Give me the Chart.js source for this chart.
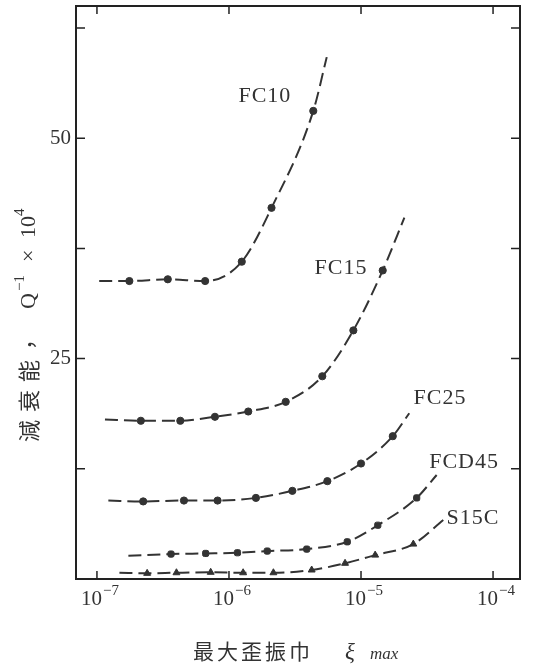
<!DOCTYPE html>
<html>
<head>
<meta charset="utf-8">
<script src="https://cdn.jsdelivr.net/npm/chart.js@4/dist/chart.umd.min.js"></script>
<style>
  html, body { margin: 0; padding: 0; background: #fff; }
  #myChart { display: block; }
</style>
</head>
<body>
<canvas id="myChart" width="533" height="667"></canvas>
<script>
// Значення (перша і остання точки - кінці штрихової кривої)
const fc10X = [1.04e-7, 1.76e-7, 3.44e-7, 6.6e-7, 1.25e-6, 2.1e-6, 4.35e-6, 5.5e-6];
const fc10Y = [33.8, 33.8, 34.0, 33.8, 36.0, 42.1, 53.1, 59.2];

const fc15X = [1.15e-7, 2.15e-7, 4.28e-7, 7.83e-7, 1.4e-6, 2.69e-6, 5.09e-6, 8.75e-6, 1.46e-5, 2.13e-5];
const fc15Y = [18.1, 17.95, 17.95, 18.4, 19.0, 20.1, 23.0, 28.2, 35.0, 41.0];

const fc25X = [1.22e-7, 2.24e-7, 4.56e-7, 8.2e-7, 1.6e-6, 3.02e-6, 5.56e-6, 1.0e-5, 1.74e-5, 2.32e-5];
const fc25Y = [8.9, 8.8, 8.9, 8.9, 9.2, 10.0, 11.1, 13.1, 16.2, 18.8];

const fcd45X = [1.73e-7, 3.64e-7, 6.66e-7, 1.16e-6, 1.95e-6, 3.88e-6, 7.87e-6, 1.34e-5, 2.64e-5, 3.74e-5];
const fcd45Y = [2.64, 2.83, 2.9, 2.98, 3.17, 3.39, 4.22, 6.1, 9.2, 11.8];

const s15cX = [1.48e-7, 2.4e-7, 4.0e-7, 7.27e-7, 1.28e-6, 2.17e-6, 4.23e-6, 7.57e-6, 1.28e-5, 2.49e-5, 4.2e-5];
const s15cY = [0.71, 0.64, 0.71, 0.76, 0.71, 0.71, 1.02, 1.78, 2.71, 3.96, 6.7];

const seriesNames = ["FC10", "FC15", "FC25", "FCD45", "S15C"];
const labelX = [1.87e-6, 7.05e-6, 3.96e-5, 6.03e-5, 7.05e-5];
const labelY = [54.8, 35.3, 20.5, 13.3, 6.9];

const xTicks = [1e-7, 1e-6, 1e-5, 1e-4];
const xTickExp = ["−7", "−6", "−5", "−4"];
const yTicks = [0, 12.5, 25, 37.5, 50, 62.5];
const yTickLabels = ["", "", "25", "", "50", ""];

const ink = "#333";
const serif = "'Liberation Serif', 'DejaVu Serif', serif";
const cjk = "'Noto Sans CJK JP', sans-serif";

function toPoints(xs, ys) {
  return xs.map((x, i) => ({ x: x, y: ys[i] }));
}

// кінці кривої без маркера
function markerRadius(r) {
  return (ctx) => {
    const n = ctx.dataset.data.length;
    return ctx.dataIndex === 0 || ctx.dataIndex === n - 1 ? 0 : r;
  };
}

function makeSeries(name, xs, ys, style, r) {
  return {
    label: name,
    data: toPoints(xs, ys),
    borderColor: ink,
    backgroundColor: ink,
    borderWidth: 2,
    borderDash: [13, 6],
    cubicInterpolationMode: "monotone",
    pointStyle: style,
    pointRadius: markerRadius(r),
    pointBorderWidth: 1,
    pointBorderColor: ink,
    pointBackgroundColor: ink,
  };
}

// рамка, внутрішні риски, підписи кривих і осей
const decorPlugin = {
  id: "decor",
  afterDraw(chart) {
    const c = chart.ctx;
    const a = chart.chartArea;
    const xs = chart.scales.x;
    const ys = chart.scales.y;
    c.save();
    c.strokeStyle = "#222";
    c.lineWidth = 2;
    c.strokeRect(a.left, a.top, a.right - a.left, a.bottom - a.top);

    c.lineWidth = 1.5;
    xTicks.forEach((v) => {
      const px = xs.getPixelForValue(v);
      c.beginPath();
      c.moveTo(px, a.bottom);
      c.lineTo(px, a.bottom - 8);
      c.moveTo(px, a.top);
      c.lineTo(px, a.top + 8);
      c.stroke();
    });
    yTicks.forEach((v) => {
      if (v === 0) return;
      const py = ys.getPixelForValue(v);
      c.beginPath();
      c.moveTo(a.left, py);
      c.lineTo(a.left + 9, py);
      c.moveTo(a.right, py);
      c.lineTo(a.right - 9, py);
      c.stroke();
    });

    c.fillStyle = "#333";
    c.textBaseline = "middle";

    // підписи десятків на осі X з показником степеня
    c.textAlign = "left";
    xTicks.forEach((v, i) => {
      const px = xs.getPixelForValue(v);
      c.font = "21px " + serif;
      c.fillText("10", px - 16, a.bottom + 20);
      c.font = "15px " + serif;
      c.fillText(xTickExp[i], px + 6, a.bottom + 12);
    });

    c.font = "22px " + serif;
    c.textAlign = "center";
    if ("letterSpacing" in c) c.letterSpacing = "1px";
    seriesNames.forEach((name, i) => {
      c.fillText(name, xs.getPixelForValue(labelX[i]), ys.getPixelForValue(labelY[i]));
    });
    if ("letterSpacing" in c) c.letterSpacing = "0px";

    // назва осі X
    c.font = "21px " + cjk;
    c.textAlign = "left";
    const xChars = ["最", "大", "歪", "振", "巾"];
    xChars.forEach((ch, i) => c.fillText(ch, 193 + i * 24, 651));
    c.font = "italic 23px " + serif;
    c.fillText("ξ", 345, 653);
    c.font = "italic 17px " + serif;
    c.fillText("max", 370, 655);

    // назва осі Y
    c.translate(29, 442);
    c.rotate(-Math.PI / 2);
    c.font = "22px " + cjk;
    ["減", "衰", "能"].forEach((ch, i) => c.fillText(ch, i * 30, 0));
    c.fillText("，", 92, -4);
    c.font = "22px " + serif;
    c.fillText("Q", 133, 0);
    c.font = "15px " + serif;
    c.fillText("−1", 151, -9);
    c.font = "22px " + serif;
    c.fillText("×", 180, 0);
    c.fillText("10", 204, 0);
    c.font = "15px " + serif;
    c.fillText("4", 226, -9);
    c.restore();
  },
};

function main() {
  const ctx = document.getElementById("myChart").getContext("2d");
  new Chart(ctx, {
    type: "line",
    data: {
      datasets: [
        makeSeries("FC10", fc10X, fc10Y, "circle", 3.6),
        makeSeries("FC15", fc15X, fc15Y, "circle", 3.6),
        makeSeries("FC25", fc25X, fc25Y, "circle", 3.6),
        makeSeries("FCD45", fcd45X, fcd45Y, "rectRounded", 3.6),
        makeSeries("S15C", s15cX, s15cY, "triangle", 4),
      ],
    },
    options: {
      responsive: false,
      animation: false,
      devicePixelRatio: 1,
      layout: { padding: { left: 0, top: 6, right: 13, bottom: 0 } },
      plugins: {
        legend: { display: false },
        tooltip: { enabled: false },
      },
      scales: {
        x: {
          type: "logarithmic",
          min: 6.94e-8,
          max: 1.6e-4,
          grid: { display: false, drawTicks: false },
          border: { display: false },
          afterBuildTicks: (scale) => {
            scale.ticks = xTicks.map((v) => ({ value: v }));
          },
          afterFit: (scale) => {
            scale.height = 88;
            scale.paddingLeft = 0;
            scale.paddingRight = 0;
          },
          ticks: {
            display: false,
          },
        },
        y: {
          type: "linear",
          min: 0,
          max: 65,
          grid: { display: false, drawTicks: false },
          border: { display: false },
          afterBuildTicks: (scale) => {
            scale.ticks = yTicks.map((v) => ({ value: v }));
          },
          afterFit: (scale) => {
            scale.width = 76;
            scale.paddingTop = 0;
            scale.paddingBottom = 0;
          },
          ticks: {
            autoSkip: false,
            padding: 5,
            color: "#333",
            font: { family: serif, size: 21 },
            callback: (v) => yTickLabels[yTicks.indexOf(v)],
          },
        },
      },
    },
    plugins: [decorPlugin],
  });
}

if (typeof document !== "undefined") {
  document.addEventListener("DOMContentLoaded", main);
}
</script>
</body>
</html>
